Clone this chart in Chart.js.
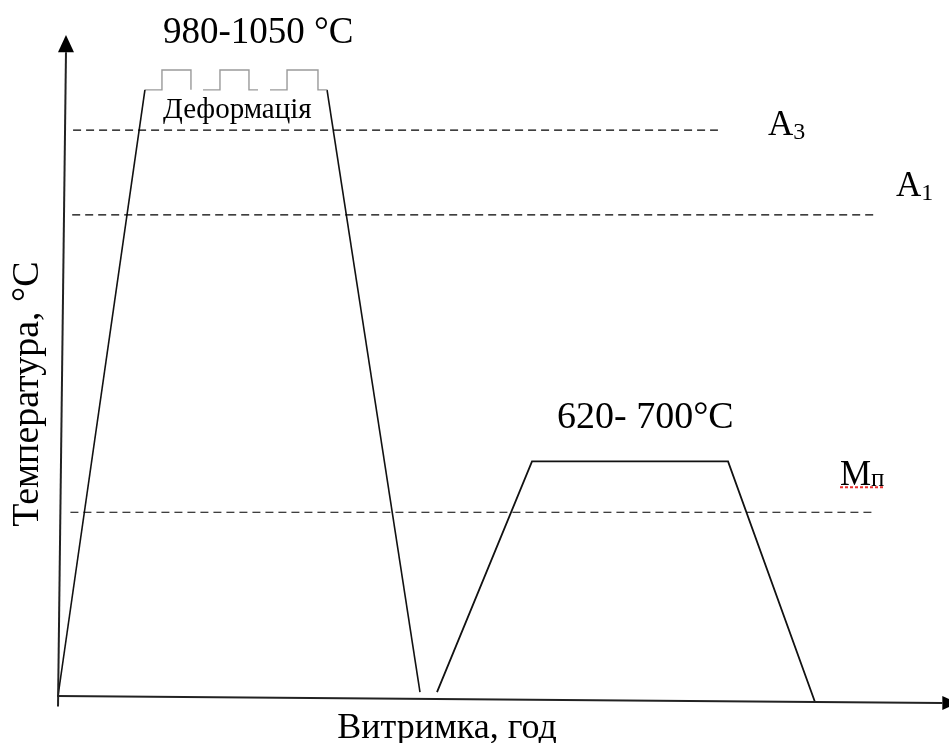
<!DOCTYPE html>
<html>
<head>
<meta charset="utf-8">
<script src="https://cdn.jsdelivr.net/npm/chart.js@4"></script>
<style>
  html, body { margin: 0; padding: 0; background: #fff; }
  #wrap { width: 949px; height: 743px; }
</style>
</head>
<body>
<div id="wrap"><canvas id="c" width="949" height="743"></canvas></div>
<script>
// Schematic heat-treatment cycle: time in relative units (0..100),
// temperature in relative units (0..100) – the diagram has no tick values.

// Heating to the deformation temperature
const heatTime = [0, 9.8];
const heatTemp = [0, 91.7];

// Deformation passes (three steps on the plateau)
const stepTimes = [
  [9.8, 11.72, 11.72, 14.99, 14.99],
  [16.35, 18.26, 18.26, 21.53, 21.53, 22.55],
  [23.9, 25.82, 25.82, 29.31, 29.31, 30.33]
];
const stepTemps = [
  [91.7, 91.7, 94.7, 94.7, 91.7],
  [91.7, 91.7, 94.7, 94.7, 91.7, 91.7],
  [91.7, 91.7, 94.7, 94.7, 91.7, 91.7]
];

// Cooling after deformation
const quenchTime = [30.33, 40.81];
const quenchTemp = [91.7, 0.6];

// Tempering cycle
const temperTime = [42.73, 53.44, 75.54, 85.34];
const temperTemp = [0.6, 35.5, 35.5, -0.9];

// Critical points (dashed levels) and their extent in time
const criticalNames = ['A3', 'A1', 'Mп'];
const criticalTemps = [85.6, 72.8, 27.8];
const criticalFrom  = [1.7, 1.6, 1.4];
const criticalTo    = [74.4, 92.3, 91.8];

// Text
const peakLabel   = '980-1050 °C';
const deformLabel = 'Деформація';
const temperLabel = '620- 700°C';
const xTitle = 'Витримка, год';
const yTitle = 'Температура, °С';

const zip = (xs, ys) => xs.map((x, i) => ({ x, y: ys[i] }));

const black = '#111';
const lineDs = (data, color, width, dash) => ({
  data, showLine: true, borderColor: color, borderWidth: width,
  borderDash: dash || [], pointRadius: 0, fill: false, tension: 0, clip: false
});

const datasets = [];
criticalTemps.forEach((t, i) => {
  datasets.push(lineDs(zip([criticalFrom[i], criticalTo[i]], [t, t]), '#000', 1.2, [8, 5]));
});
datasets.push(lineDs(zip(heatTime, heatTemp), black, 1.6));
stepTimes.forEach((ts, i) => datasets.push(lineDs(zip(ts, stepTemps[i]), '#9a9a9a', 1.4)));
datasets.push(lineDs(zip(quenchTime, quenchTemp), black, 1.6));
datasets.push(lineDs(zip(temperTime, temperTemp), black, 1.8));

const serif = '"Liberation Serif", "Times New Roman", serif';

const annotate = {
  id: 'annotate',
  afterDatasetsDraw(chart) {
    const { ctx, scales: { x, y } } = chart;
    const px = v => x.getPixelForValue(v);
    const py = v => y.getPixelForValue(v);
    ctx.save();

    // Axes with arrowheads
    ctx.strokeStyle = '#222';
    ctx.fillStyle = '#000';
    ctx.lineWidth = 2;
    ctx.beginPath();
    ctx.moveTo(px(0), py(-1.6));
    ctx.lineTo(px(0.9), py(97.4));
    ctx.stroke();
    ctx.beginPath();
    ctx.moveTo(px(0.9), py(100));
    ctx.lineTo(px(0.9) - 8, py(97.4));
    ctx.lineTo(px(0.9) + 8, py(97.4));
    ctx.closePath();
    ctx.fill();

    ctx.beginPath();
    ctx.moveTo(px(-0.1), py(0));
    ctx.lineTo(px(99.7), py(-1.06));
    ctx.stroke();
    ctx.beginPath();
    ctx.moveTo(px(101.5), py(-1.06));
    ctx.lineTo(px(99.7), py(-1.06) - 7);
    ctx.lineTo(px(99.7), py(-1.06) + 7);
    ctx.closePath();
    ctx.fill();

    // Temperature labels
    ctx.fillStyle = '#000';
    ctx.textBaseline = 'alphabetic';
    ctx.textAlign = 'left';
    ctx.font = '37px ' + serif;
    ctx.fillText(peakLabel, 163, 43);
    ctx.font = '29px ' + serif;
    ctx.fillText(deformLabel, 163, 118);
    ctx.font = '38px ' + serif;
    ctx.fillText(temperLabel, 557, 428);

    // Critical point labels with subscripts
    const sub = (main, s, xPos, base, big, small, drop) => {
      ctx.font = big + 'px ' + serif;
      ctx.fillText(main, xPos, base);
      const w = ctx.measureText(main).width;
      ctx.font = small + 'px ' + serif;
      ctx.fillText(s, xPos + w, base + drop);
      return w + ctx.measureText(s).width;
    };
    sub('A', '3', 768, py(criticalTemps[0]) + 5, 35, 24, 4);
    sub('A', '1', 896, py(criticalTemps[1]) - 19, 35, 24, 4);
    const mw = sub('M', 'п', 840, py(criticalTemps[2]) - 27, 35, 25, 1);

    // Spell-check squiggle under the Mп label
    ctx.strokeStyle = '#e8312f';
    ctx.lineWidth = 2;
    ctx.setLineDash([3, 2]);
    ctx.beginPath();
    ctx.moveTo(840, py(criticalTemps[2]) - 25);
    ctx.lineTo(840 + mw, py(criticalTemps[2]) - 25);
    ctx.stroke();
    ctx.setLineDash([]);

    // Axis titles
    ctx.font = '36px ' + serif;
    ctx.textAlign = 'center';
    ctx.fillText(xTitle, 447, 738);
    ctx.save();
    ctx.font = '38px ' + serif;
    ctx.translate(38, 394);
    ctx.rotate(-Math.PI / 2);
    ctx.fillText(yTitle, 0, 0);
    ctx.restore();

    ctx.restore();
  }
};

new Chart(document.getElementById('c'), {
  type: 'scatter',
  data: { datasets },
  options: {
    responsive: false,
    animation: false,
    devicePixelRatio: 1,
    layout: { padding: { left: 58, right: 4, top: 35, bottom: 47 } },
    scales: {
      x: { type: 'linear', min: 0, max: 100, display: false },
      y: { type: 'linear', min: 0, max: 100, display: false }
    },
    plugins: { legend: { display: false }, tooltip: { enabled: false } },
    events: []
  },
  plugins: [annotate]
});
</script>
</body>
</html>
